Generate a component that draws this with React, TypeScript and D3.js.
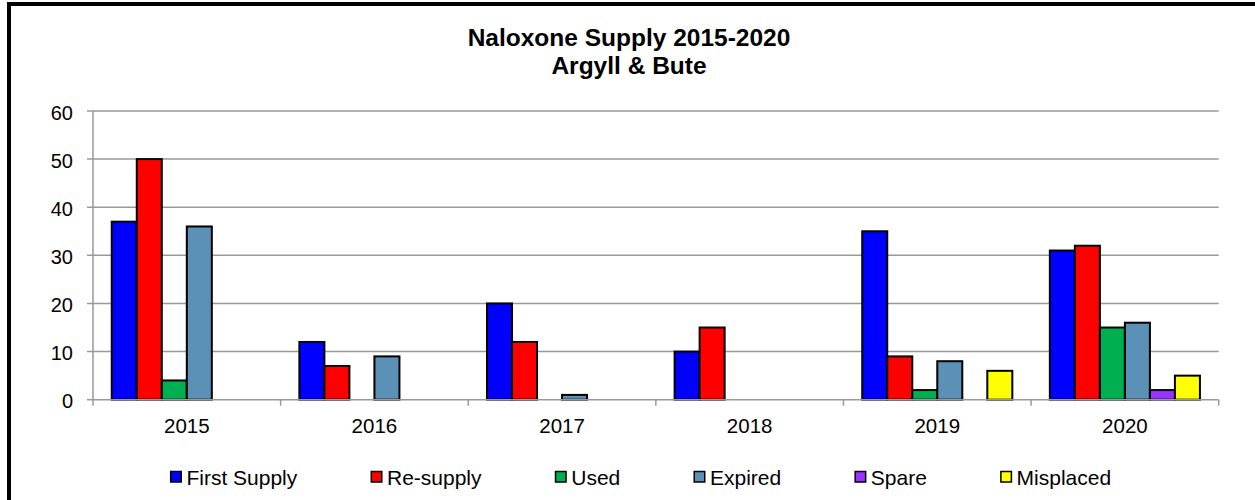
import React, { useEffect, useRef } from "react";
import * as d3 from "d3";

const years = ["2015", "2016", "2017", "2018", "2019", "2020"];
const seriesNames = ["First Supply", "Re-supply", "Used", "Expired", "Spare", "Misplaced"];
const seriesColors = ["#0000FF", "#FF0000", "#00B050", "#5B91B6", "#9933FF", "#FFFF00"];
const firstSupply = [37, 12, 20, 10, 35, 31];
const reSupply = [50, 7, 12, 15, 9, 32];
const used = [4, 0, 0, 0, 2, 15];
const expired = [36, 9, 1, 0, 8, 16];
const spare = [0, 0, 0, 0, 0, 2];
const misplaced = [0, 0, 0, 0, 6, 5];
const yTicks = [0, 10, 20, 30, 40, 50, 60];
const titleLines = ["Naloxone Supply 2015-2020", "Argyll & Bute"];

const seriesValues = [firstSupply, reSupply, used, expired, spare, misplaced];

export default function App() {
  const ref = useRef<SVGSVGElement>(null);

  useEffect(() => {
    const svg = d3.select(ref.current);
    svg.selectAll("*").remove();
    const W = 1255, H = 500;
    const left = 93, right = 1218.7, top = 111, bottom = 399.7;
    const font = "Arial, 'Liberation Sans', sans-serif";
    const grid = "#999999";

    svg.append("rect").attr("x", 9).attr("y", 4).attr("width", W + 20).attr("height", H + 20)
      .attr("fill", "#fff").attr("stroke", "#000").attr("stroke-width", 4);

    const x0 = d3.scaleBand<string>().domain(years).range([left, right]).paddingInner(0).paddingOuter(0);
    const x1 = d3.scaleBand<string>().domain(seriesNames).range([0, x0.bandwidth()]).paddingInner(0).paddingOuter(0.75);
    const y = d3.scaleLinear().domain([0, 60]).range([bottom, top]);

    // gridlines
    svg.append("g").selectAll("line").data(yTicks.filter(t => t > 0)).join("line")
      .attr("x1", left - 6).attr("x2", right).attr("y1", d => y(d)).attr("y2", d => y(d))
      .attr("stroke", grid).attr("stroke-width", 1.5);
    // y axis
    svg.append("line").attr("x1", left).attr("x2", left).attr("y1", top).attr("y2", bottom)
      .attr("stroke", grid).attr("stroke-width", 1.5);
    svg.append("line").attr("x1", left - 6).attr("x2", left).attr("y1", bottom).attr("y2", bottom)
      .attr("stroke", grid).attr("stroke-width", 1.5);
    svg.append("g").selectAll("text").data(yTicks).join("text")
      .attr("x", 73).attr("y", d => y(d) + 8.5).attr("text-anchor", "end")
      .attr("font-family", font).attr("font-size", 20).attr("fill", "#000").text(d => String(d));

    // bars
    const g = svg.append("g");
    years.forEach((yr, i) => {
      seriesNames.forEach((s, j) => {
        const v = seriesValues[j][i];
        if (!v) return;
        g.append("rect")
          .attr("x", (x0(yr) as number) + (x1(s) as number))
          .attr("y", y(v))
          .attr("width", x1.bandwidth())
          .attr("height", y(0) - y(v))
          .attr("fill", seriesColors[j])
          .attr("stroke", "#000").attr("stroke-width", 2);
      });
    });

    // x axis
    svg.append("line").attr("x1", left).attr("x2", right).attr("y1", bottom).attr("y2", bottom)
      .attr("stroke", grid).attr("stroke-width", 1.5);
    const bounds = years.map(yr => x0(yr) as number).concat([right]);
    svg.append("g").selectAll("line").data(bounds).join("line")
      .attr("x1", d => d).attr("x2", d => d).attr("y1", bottom).attr("y2", bottom + 6)
      .attr("stroke", grid).attr("stroke-width", 1.5);
    svg.append("g").selectAll("text").data(years).join("text")
      .attr("x", d => (x0(d) as number) + x0.bandwidth() / 2).attr("y", 432.5)
      .attr("text-anchor", "middle").attr("font-family", font).attr("font-size", 20.5)
      .attr("fill", "#000").text(d => d);

    // title
    svg.append("g").selectAll("text").data(titleLines).join("text")
      .attr("x", 629).attr("y", (d, i) => 46 + i * 27.5)
      .attr("text-anchor", "middle").attr("font-family", font).attr("font-weight", "bold")
      .attr("font-size", 24.5).attr("fill", "#000").text(d => d);

    // legend
    let lx = 170.7;
    const lg = svg.append("g");
    seriesNames.forEach((s, j) => {
      lg.append("rect").attr("x", lx).attr("y", 471.5).attr("width", 10.5).attr("height", 10.5)
        .attr("fill", seriesColors[j]).attr("stroke", "#000").attr("stroke-width", 1.5);
      const t = lg.append("text").attr("x", lx + 15.7).attr("y", 485)
        .attr("font-family", font).attr("font-size", 21).attr("fill", "#000").text(s);
      const w = (t.node() as SVGTextElement).getComputedTextLength();
      lx = lx + 15.7 + w + 74;
    });
  }, []);

  return (
    <svg ref={ref} width={1255} height={500}
      style={{ position: "absolute", left: 0, top: 0, display: "block" }} />
  );
}
